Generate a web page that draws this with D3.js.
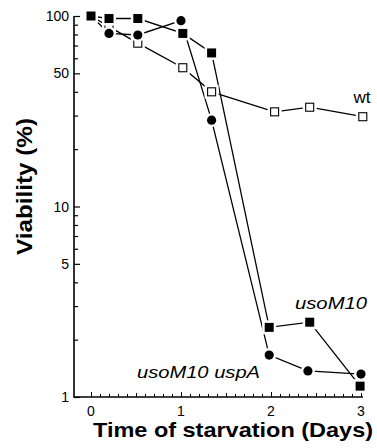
<!DOCTYPE html>
<html><head><meta charset="utf-8">
<script src="https://cdn.jsdelivr.net/npm/d3@7"></script>
<style>html,body{margin:0;padding:0;background:#fff;}svg{display:block;}</style>
</head><body>
<script>
// Data
const daysWt    = [0, 0.2, 0.52, 1.02, 1.34, 2.04, 2.43, 3.02];
const wt        = [100, 88, 72, 53.5, 40, 31.4, 33.2, 29.6];
const daysM10   = [0, 0.2, 0.52, 1.02, 1.34, 1.98, 2.43, 2.99];
const usoM10    = [100, 97, 97, 81, 64, 2.32, 2.47, 1.14];
const daysUspA  = [0, 0.2, 0.52, 1.0, 1.34, 1.98, 2.41, 3.0];
const usoM10uspA= [100, 81, 79.5, 94.5, 28.4, 1.66, 1.37, 1.32];
const yTickVals = [1, 5, 10, 50, 100];
const xTickVals = [0, 1, 2, 3];
const seriesLabels = ["wt", "usoM10", "usoM10 uspA"];

const W = 377, H = 448;
const svg = d3.select("body").append("svg").attr("width", W).attr("height", H);
const x = d3.scaleLinear().domain([-0.189, 3]).range([74, 361]);
const y = d3.scaleLog().domain([1, 100]).range([397, 16]);

const font = "Liberation Sans, Arial, Helvetica, sans-serif";

// Y axis
const yMinor = [];
for (let d = 1; d < 100; d *= 10) for (let k = 1; k < 10; k++) yMinor.push(k * d);
yMinor.push(100);
const yAxis = d3.axisRight(y).tickValues(yMinor).tickSize(4).tickFormat("");
const gy = svg.append("g").attr("transform", `translate(${x.range()[0]},0)`).call(yAxis);
gy.select(".domain").remove();
gy.selectAll("line").attr("stroke", "#000").attr("stroke-width", 1.2)
  .attr("x2", d => yTickVals.includes(d) ? 6 : 4);
svg.append("line").attr("x1", 74).attr("x2", 74).attr("y1", y(100)).attr("y2", y(1))
  .attr("stroke", "#000").attr("stroke-width", 1.6);
svg.append("g").selectAll("text").data(yTickVals).join("text")
  .attr("x", 69).attr("y", d => y(d)).attr("dy", "0.36em")
  .attr("text-anchor", "end").attr("font-family", font).attr("font-size", 14)
  .text(d => d);

// X axis
const xMinor = d3.range(0, 31).map(i => i / 10);
const xAxis = d3.axisTop(x).tickValues(xMinor).tickSize(3).tickFormat("");
const gx = svg.append("g").attr("transform", `translate(0,${y(1)})`).call(xAxis);
gx.select(".domain").remove();
gx.selectAll("line").attr("stroke", "#000").attr("stroke-width", 1)
  .attr("y2", (d, i) => (i % 10 === 0) ? -5 : (i % 5 === 0 ? -4 : -3));
svg.append("line").attr("x1", 73.2).attr("x2", x(3) + 2).attr("y1", y(1)).attr("y2", y(1))
  .attr("stroke", "#000").attr("stroke-width", 1.6);
svg.append("g").selectAll("text").data(xTickVals).join("text")
  .attr("x", d => x(d)).attr("y", 416)
  .attr("text-anchor", "middle").attr("font-family", font).attr("font-size", 14)
  .text(d => d);

// Axis titles
svg.append("text").attr("x", 233).attr("y", 437).attr("text-anchor", "middle")
  .attr("font-family", font).attr("font-weight", "bold").attr("font-size", 21)
  .attr("textLength", 280).attr("lengthAdjust", "spacingAndGlyphs")
  .text("Time of starvation (Days)");
svg.append("text").attr("transform", "translate(32,186.5) rotate(-90)").attr("text-anchor", "middle")
  .attr("font-family", font).attr("font-weight", "bold").attr("font-size", 22)
  .attr("textLength", 137).attr("lengthAdjust", "spacingAndGlyphs")
  .text("Viability (%)");

// Series
const series = [
  {days: daysWt, vals: wt, type: "open"},
  {days: daysUspA, vals: usoM10uspA, type: "circle"},
  {days: daysM10, vals: usoM10, type: "square"}
];
const line = d3.line().x(d => x(d[0])).y(d => y(d[1]));
series.forEach(s => {
  const pts = s.days.map((d, i) => [d, s.vals[i]]);
  svg.append("path").attr("d", line(pts)).attr("fill", "none")
    .attr("stroke", "#000").attr("stroke-width", 1.3);
});
series.forEach(s => {
  const pts = s.days.map((d, i) => [d, s.vals[i]]);
  const g = svg.append("g");
  pts.forEach(p => {
    const cx = x(p[0]), cy = y(p[1]);
    if (s.type === "circle") {
      g.append("circle").attr("cx", cx).attr("cy", cy).attr("r", 7).attr("fill", "#fff");
      g.append("circle").attr("cx", cx).attr("cy", cy).attr("r", 4.6).attr("fill", "#000");
    } else {
      const sz = 9;
      g.append("rect").attr("x", cx - sz / 2 - 2.5).attr("y", cy - sz / 2 - 2.5)
        .attr("width", sz + 5).attr("height", sz + 5).attr("fill", "#fff");
      if (s.type === "square") {
        g.append("rect").attr("x", cx - sz / 2).attr("y", cy - sz / 2)
          .attr("width", sz).attr("height", sz).attr("fill", "#000");
      } else {
        g.append("rect").attr("x", cx - sz / 2 + 0.5).attr("y", cy - sz / 2 + 0.5)
          .attr("width", sz - 1).attr("height", sz - 1).attr("fill", "#fff")
          .attr("stroke", "#000").attr("stroke-width", 1.1);
      }
    }
  });
});

// Series labels
svg.append("text").attr("x", 362).attr("y", 103).attr("text-anchor", "middle")
  .attr("font-family", font).attr("font-size", 17).text(seriesLabels[0]);
svg.append("text").attr("x", 295).attr("y", 309)
  .attr("font-family", font).attr("font-size", 17).attr("font-style", "italic")
  .attr("textLength", 72).attr("lengthAdjust", "spacingAndGlyphs").text(seriesLabels[1]);
svg.append("text").attr("x", 137).attr("y", 378)
  .attr("font-family", font).attr("font-size", 17).attr("font-style", "italic")
  .attr("textLength", 123).attr("lengthAdjust", "spacingAndGlyphs").text(seriesLabels[2]);
</script>
</body></html>
